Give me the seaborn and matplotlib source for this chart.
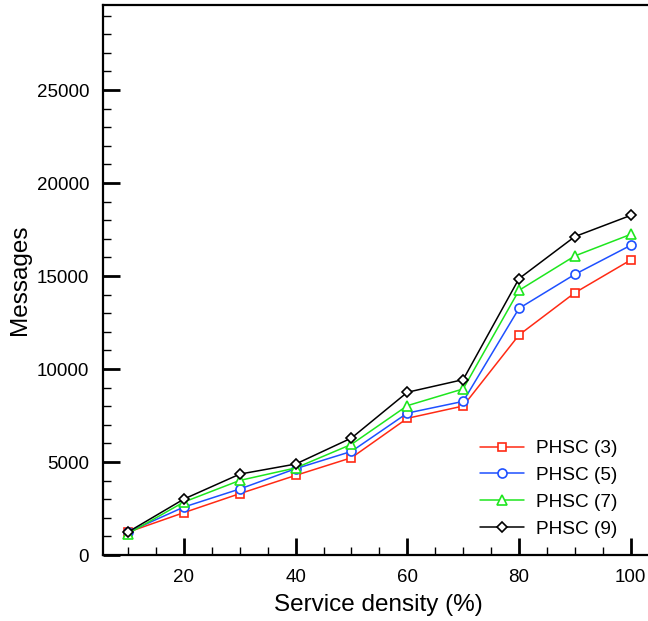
import pandas as pd
import numpy as np

import matplotlib
matplotlib.use('Agg')
import matplotlib.pyplot as plt
import seaborn as sns
from matplotlib.ticker import MultipleLocator

# datos
density = [10, 20, 30, 40, 50, 60, 70, 80, 90, 100]
phsc3 = [1230, 2280, 3300, 4280, 5230, 7350, 8010, 11830, 14100, 15860]
phsc5 = [1230, 2580, 3550, 4640, 5570, 7630, 8260, 13260, 15090, 16650]
phsc7 = [1150, 2850, 4010, 4680, 5950, 8030, 8930, 14230, 16080, 17240]
phsc9 = [1240, 3010, 4350, 4890, 6290, 8750, 9430, 14860, 17120, 18260]
labels = ['PHSC (3)', 'PHSC (5)', 'PHSC (7)', 'PHSC (9)']

df = pd.DataFrame({
    'density': density * 4,
    'messages': phsc3 + phsc5 + phsc7 + phsc9,
    'series': [l for l in labels for _ in density],
})

sns.set_style('ticks')
plt.rcParams['font.family'] = ['Liberation Sans', 'DejaVu Sans']
plt.rcParams['text.color'] = 'black'
plt.rcParams['axes.labelcolor'] = 'black'
plt.rcParams['xtick.color'] = 'black'
plt.rcParams['ytick.color'] = 'black'
plt.rcParams['axes.edgecolor'] = 'black'

colors = ['#ff2a14', '#1e50ff', '#1ee61e', '#000000']
markers = ['s', 'o', '^', 'D']
msizes = [6.2, 6.5, 6.5, 5.0]

fig = plt.figure(figsize=(6.48, 6.21), dpi=100)
ax = fig.add_axes([103 / 648, 66 / 621, 550 / 648, 550.5 / 621])

sns.lineplot(data=df, x='density', y='messages', hue='series', style='series',
             palette=colors, markers=markers, dashes=False, ax=ax,
             linewidth=1.1, markersize=6, markerfacecolor='white',
             markeredgewidth=1.2)

# marcadores con el color de la serie
for line, c, ms in zip(ax.get_lines(), colors, msizes):
    line.set_markeredgecolor(c)
    line.set_markerfacecolor('white')
    line.set_markersize(ms)

ax.set_xlim(5.5, 104)
ax.set_ylim(0, 29600)
ax.xaxis.set_major_locator(MultipleLocator(20))
ax.xaxis.set_minor_locator(MultipleLocator(5))
ax.yaxis.set_major_locator(MultipleLocator(5000))
ax.yaxis.set_minor_locator(MultipleLocator(1000))
ax.tick_params(which='major', direction='in', length=12, width=2, labelsize=13.5)
ax.tick_params(axis='x', which='major', pad=10)
ax.tick_params(axis='y', which='major', pad=10)
ax.tick_params(which='minor', direction='in', length=6, width=1)
ax.tick_params(top=False, right=False)
for s in ['left', 'bottom', 'top']:
    ax.spines[s].set_linewidth(1.6)
ax.spines['right'].set_visible(False)

ax.set_xlabel('Service density (%)', fontsize=17.5, labelpad=6)
ax.set_ylabel('Messages', fontsize=17.5, labelpad=4)

handles, labs = ax.get_legend_handles_labels()
for h, c, ms in zip(handles, colors, msizes):
    h.set_markeredgecolor(c)
    h.set_markerfacecolor('white')
    h.set_markersize(ms)
ax.legend(handles, labs, loc='upper left', bbox_to_anchor=(0.654, 0.24),
          frameon=False, fontsize=13.7, handlelength=2.3, handletextpad=0.65,
          labelspacing=0.5)

plt.savefig('out.png', dpi=100)
